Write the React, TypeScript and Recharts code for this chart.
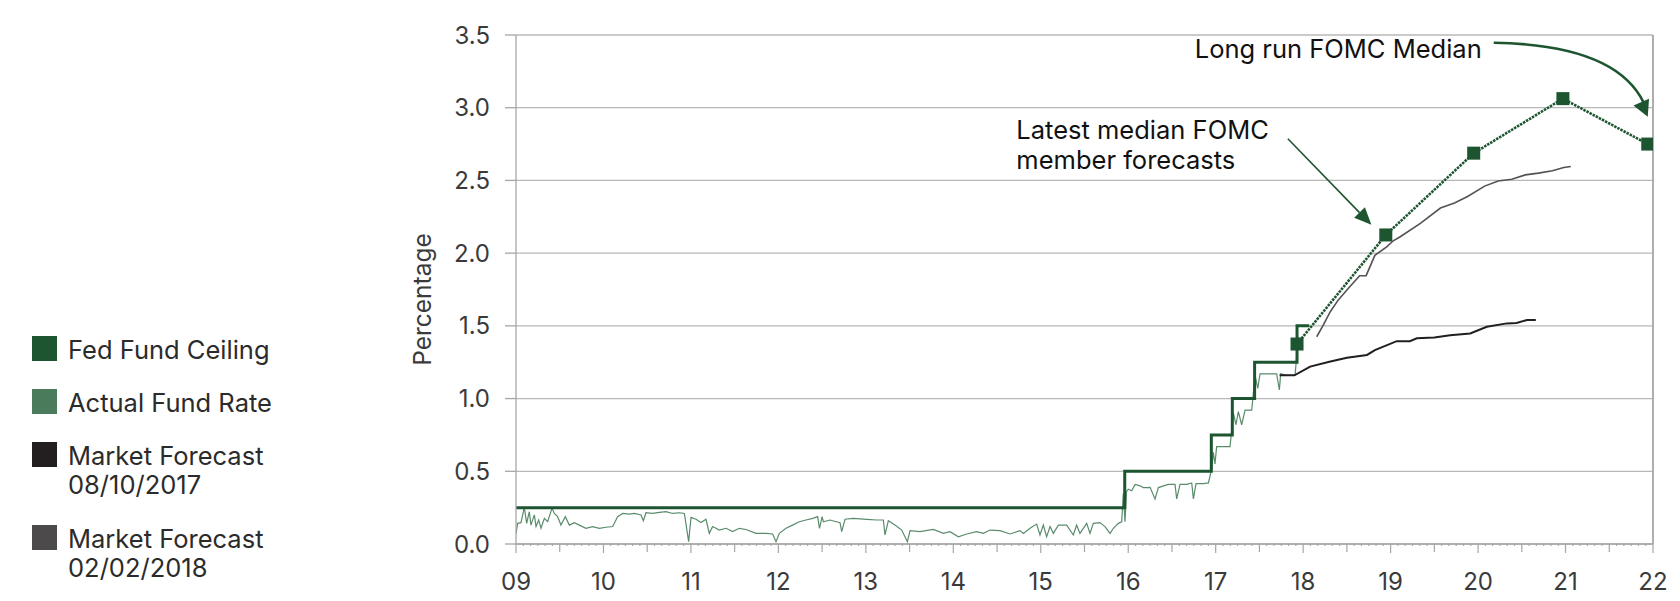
import React from 'react';
import {
  ComposedChart,
  Line,
  XAxis,
  YAxis,
  CartesianGrid,
  ReferenceLine,
  ReferenceDot,
} from 'recharts';

// ---------- DATA ----------
const yearTicks = [2009, 2010, 2011, 2012, 2013, 2014, 2015, 2016, 2017, 2018, 2019, 2020, 2021, 2022];
const yearLabels = ['09', '10', '11', '12', '13', '14', '15', '16', '17', '18', '19', '20', '21', '22'];
const yTicks = [0, 0.5, 1.0, 1.5, 2.0, 2.5, 3.0, 3.5];

const ceilingYears = [2009, 2015.96, 2016.95, 2017.19, 2017.445, 2017.93, 2018.07];
const ceilingRates = [0.25, 0.5, 0.75, 1.0, 1.25, 1.5, 1.5];

const actualYears = [
  2009.0, 2009.019, 2009.057, 2009.095, 2009.122, 2009.152, 2009.171, 2009.21, 2009.229, 2009.259,
  2009.286, 2009.324, 2009.362, 2009.412, 2009.438, 2009.476, 2009.514, 2009.564, 2009.61, 2009.667,
  2009.724, 2009.8, 2009.877, 2009.953, 2010.029, 2010.105, 2010.162, 2010.22, 2010.296, 2010.353,
  2010.429, 2010.456, 2010.486, 2010.562, 2010.639, 2010.715, 2010.791, 2010.867, 2010.925, 2010.974,
  2011.001, 2011.058, 2011.115, 2011.172, 2011.21, 2011.248, 2011.325, 2011.401, 2011.477, 2011.553,
  2011.63, 2011.744, 2011.858, 2011.934, 2011.973, 2012.011, 2012.087, 2012.163, 2012.239, 2012.316,
  2012.392, 2012.449, 2012.47, 2012.5, 2012.514, 2012.59, 2012.705, 2012.724, 2012.762, 2012.857,
  2013.01, 2013.124, 2013.2, 2013.219, 2013.257, 2013.333, 2013.41, 2013.475, 2013.505, 2013.619,
  2013.772, 2013.886, 2013.962, 2014.058, 2014.153, 2014.267, 2014.343, 2014.42, 2014.534, 2014.648,
  2014.763, 2014.801, 2014.877, 2014.953, 2014.991, 2015.029, 2015.067, 2015.106, 2015.144, 2015.201,
  2015.296, 2015.372, 2015.41, 2015.448, 2015.525, 2015.563, 2015.601, 2015.677, 2015.734, 2015.792,
  2015.83, 2015.887, 2015.925, 2015.944, 2015.963, 2015.98, 2016.0, 2016.04, 2016.078, 2016.135,
  2016.173, 2016.211, 2016.25, 2016.306, 2016.345, 2016.402, 2016.459, 2016.535, 2016.554, 2016.592,
  2016.668, 2016.726, 2016.745, 2016.775, 2016.859, 2016.917, 2016.955, 2016.973, 2016.992, 2017.011,
  2017.087, 2017.164, 2017.202, 2017.232, 2017.259, 2017.297, 2017.336, 2017.412, 2017.45, 2017.481,
  2017.507, 2017.583, 2017.659, 2017.697, 2017.728, 2017.743, 2017.812, 2017.907, 2017.945, 2017.964,
  2017.983, 2018.0,
];
const actualRates = [
  0.073, 0.142, 0.147, 0.252, 0.142, 0.222, 0.13, 0.2, 0.12, 0.165,
  0.108, 0.176, 0.153, 0.247, 0.21, 0.188, 0.13, 0.188, 0.13, 0.147,
  0.13, 0.108, 0.12, 0.108, 0.115, 0.12, 0.188, 0.21, 0.206, 0.21,
  0.2, 0.16, 0.215, 0.21, 0.218, 0.222, 0.21, 0.215, 0.21, 0.016,
  0.183, 0.17, 0.147, 0.17, 0.073, 0.12, 0.096, 0.108, 0.085, 0.108,
  0.1, 0.073, 0.073, 0.069, 0.016, 0.073, 0.108, 0.13, 0.153, 0.165,
  0.176, 0.188, 0.108, 0.188, 0.153, 0.165, 0.147, 0.085, 0.17, 0.176,
  0.17, 0.165, 0.165, 0.062, 0.16, 0.13, 0.096, 0.016, 0.092, 0.085,
  0.1, 0.073, 0.085, 0.05, 0.069, 0.085, 0.073, 0.096, 0.092, 0.069,
  0.092, 0.073, 0.108, 0.137, 0.062, 0.13, 0.05, 0.12, 0.073, 0.13,
  0.13, 0.062, 0.13, 0.073, 0.142, 0.073, 0.142, 0.147, 0.12, 0.073,
  0.108, 0.142, 0.153, 0.348, 0.153, 0.36, 0.377, 0.366, 0.41, 0.4,
  0.388, 0.388, 0.39, 0.31, 0.388, 0.4, 0.41, 0.41, 0.31, 0.41,
  0.41, 0.42, 0.31, 0.415, 0.415, 0.42, 0.52, 0.63, 0.55, 0.67,
  0.67, 0.67, 0.9, 0.82, 0.91, 0.82, 0.92, 0.92, 1.16, 1.07,
  1.17, 1.17, 1.17, 1.17, 1.06, 1.17, 1.16, 1.16, 1.42, 1.38,
  1.42, 1.42,
];

const forecast2017Years = [
  2017.73, 2017.9, 2018.08, 2018.3, 2018.5, 2018.73, 2018.82, 2019.07, 2019.22, 2019.3,
  2019.5, 2019.68, 2019.91, 2020.1, 2020.33, 2020.44, 2020.56, 2020.66,
];
const forecast2017Rates = [
  1.16, 1.16, 1.22, 1.253, 1.28, 1.3, 1.333, 1.395, 1.395, 1.414,
  1.42, 1.436, 1.448, 1.494, 1.517, 1.52, 1.54, 1.54,
];

const forecast2018Years = [
  2018.155, 2018.23, 2018.31, 2018.4, 2018.52, 2018.646, 2018.72, 2018.82, 2018.955, 2019.03,
  2019.11, 2019.34, 2019.57, 2019.73, 2019.88, 2020.075, 2020.23, 2020.385, 2020.54, 2020.69,
  2020.85, 2020.98, 2021.06,
];
const forecast2018Rates = [
  1.425, 1.505, 1.597, 1.677, 1.76, 1.845, 1.845, 1.985, 2.043, 2.085,
  2.113, 2.205, 2.31, 2.345, 2.39, 2.461, 2.496, 2.508, 2.538, 2.55,
  2.566, 2.589, 2.596,
];

const fomcYears = [2017.93, 2018.945, 2019.95, 2020.97, 2021.94];
const fomcRates = [1.375, 2.125, 2.6875, 3.0625, 2.75];

const legendNames = ['Fed Fund Ceiling', 'Actual Fund Rate', 'Market Forecast\n08/10/2017', 'Market Forecast\n02/02/2018'];
const legendColors = ['#1d5530', '#4a7c5c', '#231f20', '#4d4a4b'];

const annotationLatest = ['Latest median FOMC', 'member forecasts'];
const annotationLongRun = 'Long run FOMC Median';

// ---------- helpers ----------
const zip = (xs: number[], ys: number[]) => xs.map((x, i) => ({ x, y: ys[i] }));
const ceilingData = zip(ceilingYears, ceilingRates);
const actualData = zip(actualYears, actualRates);
const f2017Data = zip(forecast2017Years, forecast2017Rates);
const f2018Data = zip(forecast2018Years, forecast2018Rates);
const fomcData = zip(fomcYears, fomcRates);

const monthTicks: number[] = [];
for (let i = 0; i < yearTicks.length - 1; i++) {
  for (let m = 0; m < 12; m++) monthTicks.push(yearTicks[i] + m / 12);
}
monthTicks.push(yearTicks[yearTicks.length - 1]);

const FONT = 'Inter, "Noto Sans", sans-serif';
const TEXT_SIZE = 25.5;
const DARK_GREEN = '#1d5530';
const AXIS = '#a6a6a6';

const XTick = (props: any) => {
  const { x, y, payload } = props;
  const v = payload.value as number;
  const yi = yearTicks.findIndex((t) => Math.abs(t - v) < 1e-6);
  const isHalf = yi < 0 && Math.abs(v * 2 - Math.round(v * 2)) < 1e-6;
  const len = yi >= 0 ? 9 : isHalf ? 8 : 2;
  return (
    <g>
      <line x1={x} x2={x} y1={y} y2={y + len} stroke={AXIS} strokeWidth={1.2} />
      {yi >= 0 && (
        <text x={x} y={y + 46} textAnchor="middle" fontSize={24} fill="#3a3a3a" fontFamily={FONT}>
          {yearLabels[yi]}
        </text>
      )}
    </g>
  );
};

const SquareDot = (p: any) => {
  if (p.cx == null || p.cy == null) return <g key={p.index} />;
  return <rect key={p.index} x={p.cx - 6.5} y={p.cy - 6.5} width={13} height={13} fill={DARK_GREEN} />;
};

const YLabel = (props: any) => {
  const vb = props.viewBox || { x: 0, y: 0, width: 0, height: 0 };
  const cx = vb.x + 16;
  const cy = vb.y + vb.height / 2 + 10;
  return (
    <text x={cx} y={cy} transform={`rotate(-90, ${cx}, ${cy})`} textAnchor="middle" dominantBaseline="central"
      fontSize={24.5} fill="#3a3a3a" fontFamily={FONT}>
      Percentage
    </text>
  );
};

const LatestArrow = (p: any) => {
  const { cx, cy } = p;
  if (cx == null) return <g />;
  const sx = cx - 83.5, sy = cy - 86;
  const dx = cx - sx, dy = cy - sy;
  const L = Math.hypot(dx, dy);
  const ux = dx / L, uy = dy / L;
  const hl = 17, hw = 7.5;
  const bx = cx - ux * hl, by = cy - uy * hl;
  return (
    <g>
      <line x1={sx} y1={sy} x2={bx} y2={by} stroke={DARK_GREEN} strokeWidth={1.6} />
      <polygon
        points={`${cx},${cy} ${bx - uy * hw},${by + ux * hw} ${bx + uy * hw},${by - ux * hw}`}
        fill={DARK_GREEN}
      />
      <text x={cx - 355} y={cy - 86} fontSize={TEXT_SIZE} fill="#111" fontFamily={FONT}>{annotationLatest[0]}</text>
      <text x={cx - 355} y={cy - 56} fontSize={TEXT_SIZE} fill="#111" fontFamily={FONT}>{annotationLatest[1]}</text>
    </g>
  );
};

const LongRunArrow = (p: any) => {
  const { cx, cy } = p;
  if (cx == null) return <g />;
  const p0 = [cx - 154, cy - 74];
  const c = [cx - 32, cy - 72];
  const ex = cx - 4, ey = cy - 14;
  const ux0 = cx - c[0], uy0 = cy - c[1];
  const L = Math.hypot(ux0, uy0);
  const ux = ux0 / L, uy = uy0 / L;
  const hl = 16, hw = 8.5;
  const bx = cx - ux * hl, by = cy - uy * hl;
  return (
    <g>
      <path d={`M${p0[0]},${p0[1]} Q${c[0]},${c[1]} ${ex},${ey}`} fill="none" stroke={DARK_GREEN} strokeWidth={2.6} />
      <polygon
        points={`${cx},${cy} ${bx - uy * hw},${by + ux * hw} ${bx + uy * hw},${by - ux * hw}`}
        fill={DARK_GREEN}
      />
      <text x={cx - 166} y={cy - 59} textAnchor="end" fontSize={TEXT_SIZE} fill="#111" fontFamily={FONT}>{annotationLongRun}</text>
    </g>
  );
};

const Legend = () => {
  const tops = [336, 389, 442, 525];
  return (
    <div style={{ position: 'absolute', left: 0, top: 0, fontFamily: FONT, fontSize: TEXT_SIZE, color: '#2b2b2b' }}>
      {legendNames.map((name, i) => (
        <div key={name} style={{ position: 'absolute', left: 0, top: tops[i], width: 340 }}>
          <div style={{ position: 'absolute', left: 32, top: 0, width: 25, height: 25, background: legendColors[i] }} />
          <div style={{ position: 'absolute', left: 68, top: -1, lineHeight: '29px', whiteSpace: 'pre' }}>{name}</div>
        </div>
      ))}
    </div>
  );
};

export default function App() {
  return (
    <div style={{ position: 'absolute', left: 0, top: 0, width: 1680, height: 601, background: '#fff', fontFamily: FONT }}>
      <ComposedChart width={1680} height={601} margin={{ top: 35, right: 27, bottom: 0, left: 406 }}>
        <CartesianGrid horizontal vertical={false} stroke="#b8b8b8" strokeWidth={1.3} />
        <XAxis
          type="number"
          dataKey="x"
          domain={[2009, 2022]}
          allowDataOverflow
          ticks={monthTicks}
          interval={0}
          tickLine={false}
          tickSize={0}
          tickMargin={0}
          tick={<XTick />}
          axisLine={{ stroke: AXIS, strokeWidth: 1.3 }}
          height={57}
        />
        <YAxis
          type="number"
          dataKey="y"
          domain={[0, 3.5]}
          ticks={yTicks}
          interval={0}
          width={110}
          tickSize={11}
          tickMargin={15}
          tickFormatter={(v: number) => v.toFixed(1)}
          tick={{ fontSize: 24, fill: '#3a3a3a', fontFamily: FONT }}
          tickLine={{ stroke: AXIS, strokeWidth: 1.3 }}
          axisLine={{ stroke: AXIS, strokeWidth: 1.3 }}
          label={<YLabel />}
        />
        <ReferenceLine x={2022} stroke={AXIS} strokeWidth={1.8} ifOverflow="visible" />
        <Line data={actualData} dataKey="y" type="linear" stroke="#5a8c6c" strokeWidth={1.2} dot={false}
          isAnimationActive={false} name="Actual Fund Rate" />
        <Line data={ceilingData} dataKey="y" type="stepAfter" stroke={DARK_GREEN} strokeWidth={3} dot={false}
          isAnimationActive={false} name="Fed Fund Ceiling" />
        <Line data={f2017Data} dataKey="y" type="linear" stroke="#231f20" strokeWidth={2} dot={false}
          isAnimationActive={false} name="Market Forecast 08/10/2017" />
        <Line data={f2018Data} dataKey="y" type="linear" stroke="#555253" strokeWidth={1.6} dot={false}
          isAnimationActive={false} name="Market Forecast 02/02/2018" />
        <Line data={fomcData} dataKey="y" type="linear" stroke={DARK_GREEN} strokeWidth={2.6}
          strokeDasharray="2.5 1" dot={<SquareDot />} activeDot={false}
          isAnimationActive={false} name="FOMC Median" />
        <ReferenceDot x={2018.78} y={2.195} r={0} ifOverflow="visible" shape={(p: any) => <LatestArrow {...p} />} />
        <ReferenceDot x={2021.94} y={2.938} r={0} ifOverflow="visible" shape={(p: any) => <LongRunArrow {...p} />} />
      </ComposedChart>
      <Legend />
    </div>
  );
}
